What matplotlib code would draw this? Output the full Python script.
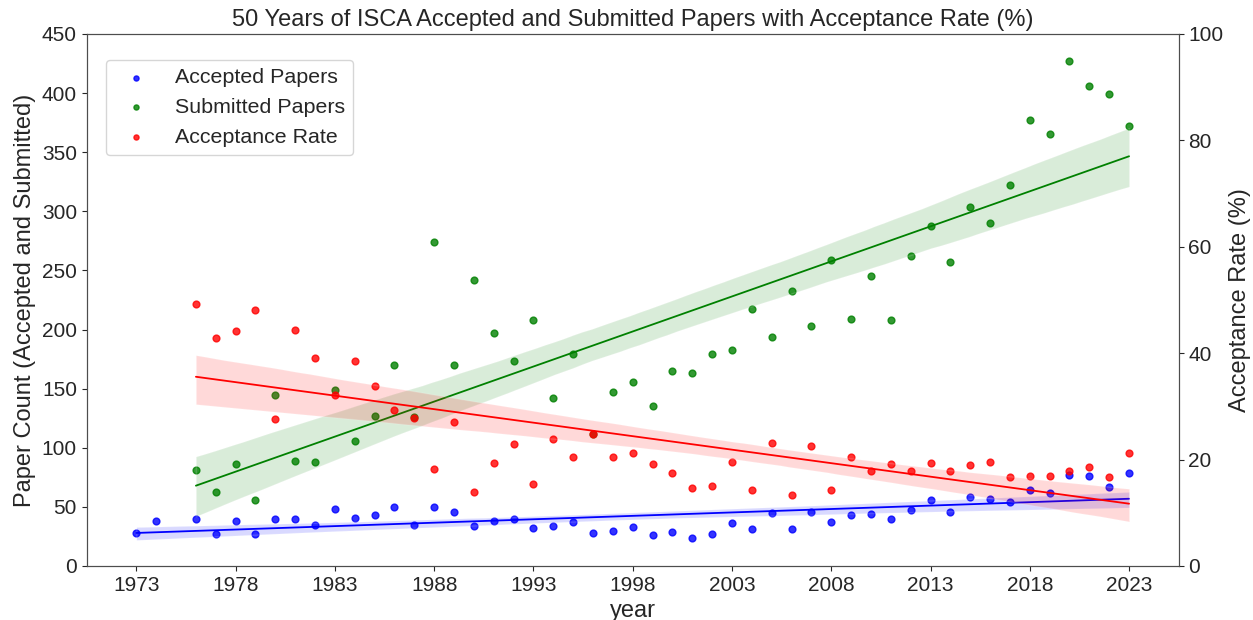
import matplotlib.pyplot as plt
import numpy as np
import pandas as pd
import seaborn as sns

# ISCA papers per year (1975 missing; submissions not known for 1973/74)
years = [1973, 1974] + list(range(1976, 2024))
accepted = [28, 38, 40, 27, 38, 27, 40, 40, 35, 48, 41, 43, 50, 35, 50, 46, 34, 38,
            40, 32, 34, 37, 28, 30, 33, 26, 29, 24, 27, 36, 31, 45, 31, 46, 37, 43,
            44, 40, 47, 56, 46, 58, 57, 54, 64, 62, 77, 76, 67, 79]
submitted = [np.nan, np.nan, 81, 63, 86, 56, 145, 89, 88, 149, 106, 127, 170, 126,
             274, 170, 242, 197, 173, 208, 142, 179, 112, 147, 156, 135, 165, 163,
             179, 183, 217, 194, 233, 203, 259, 209, 245, 208, 262, 288, 257, 304,
             290, 322, 377, 365, 427, 406, 399, 372]
acc_rate = [np.nan, np.nan, 49.2, 42.8, 44.1, 48.1, 27.7, 44.3, 39.1, 32.2, 38.6,
            33.8, 29.3, 27.8, 18.3, 27.1, 14.0, 19.3, 23.0, 15.4, 23.8, 20.5, 24.9,
            20.5, 21.2, 19.2, 17.5, 14.7, 15.0, 19.5, 14.2, 23.2, 13.3, 22.5, 14.2,
            20.5, 17.8, 19.2, 17.8, 19.4, 17.9, 19.0, 19.6, 16.7, 17.0, 17.0, 17.9,
            18.7, 16.8, 21.2]
xticks = list(range(1973, 2024, 5))

df = pd.DataFrame({'year': years, 'accepted': accepted,
                   'submitted': submitted, 'rate': acc_rate})

sns.set_style('ticks')
plt.rcParams['font.family'] = ['Liberation Sans', 'DejaVu Sans']
plt.rcParams['axes.edgecolor'] = '.3'

fig, ax = plt.subplots(figsize=(12.53, 6.2), dpi=100)
fig.subplots_adjust(left=0.0692, right=0.9407, top=0.9452, bottom=0.0871)

line_kws = {'linewidth': 1.3}
sns.regplot(data=df, x='year', y='accepted', ax=ax, color='blue',
            scatter_kws={'s': 24}, line_kws=line_kws, label='Accepted Papers', seed=1)
sns.regplot(data=df, x='year', y='submitted', ax=ax, color='green',
            scatter_kws={'s': 24}, line_kws=line_kws, label='Submitted Papers', seed=1)
ax.set_ylim(0, 450)
ax.set_xticks(xticks)
ax.set_xlabel('year', fontsize=17)
ax.set_ylabel('Paper Count (Accepted and Submitted)', fontsize=17)
ax.tick_params(labelsize=15)

ax2 = ax.twinx()
sns.regplot(data=df, x='year', y='rate', ax=ax2, color='red',
            scatter_kws={'s': 24}, line_kws=line_kws, label='Acceptance Rate', seed=1)
ax2.set_ylim(0, 100)
ax2.set_ylabel('Acceptance Rate (%)', fontsize=17)
ax2.tick_params(labelsize=15)

plt.title('50 Years of ISCA Accepted and Submitted Papers with Acceptance Rate (%)',
          fontsize=17)

h1, l1 = ax.get_legend_handles_labels()
h2, l2 = ax2.get_legend_handles_labels()
ax2.legend(h1 + h2, l1 + l2, loc='upper left', bbox_to_anchor=(0.008, 0.972),
           fontsize=15.4, markerscale=0.75)

plt.savefig('out.png', dpi=100)
plt.close(fig)
